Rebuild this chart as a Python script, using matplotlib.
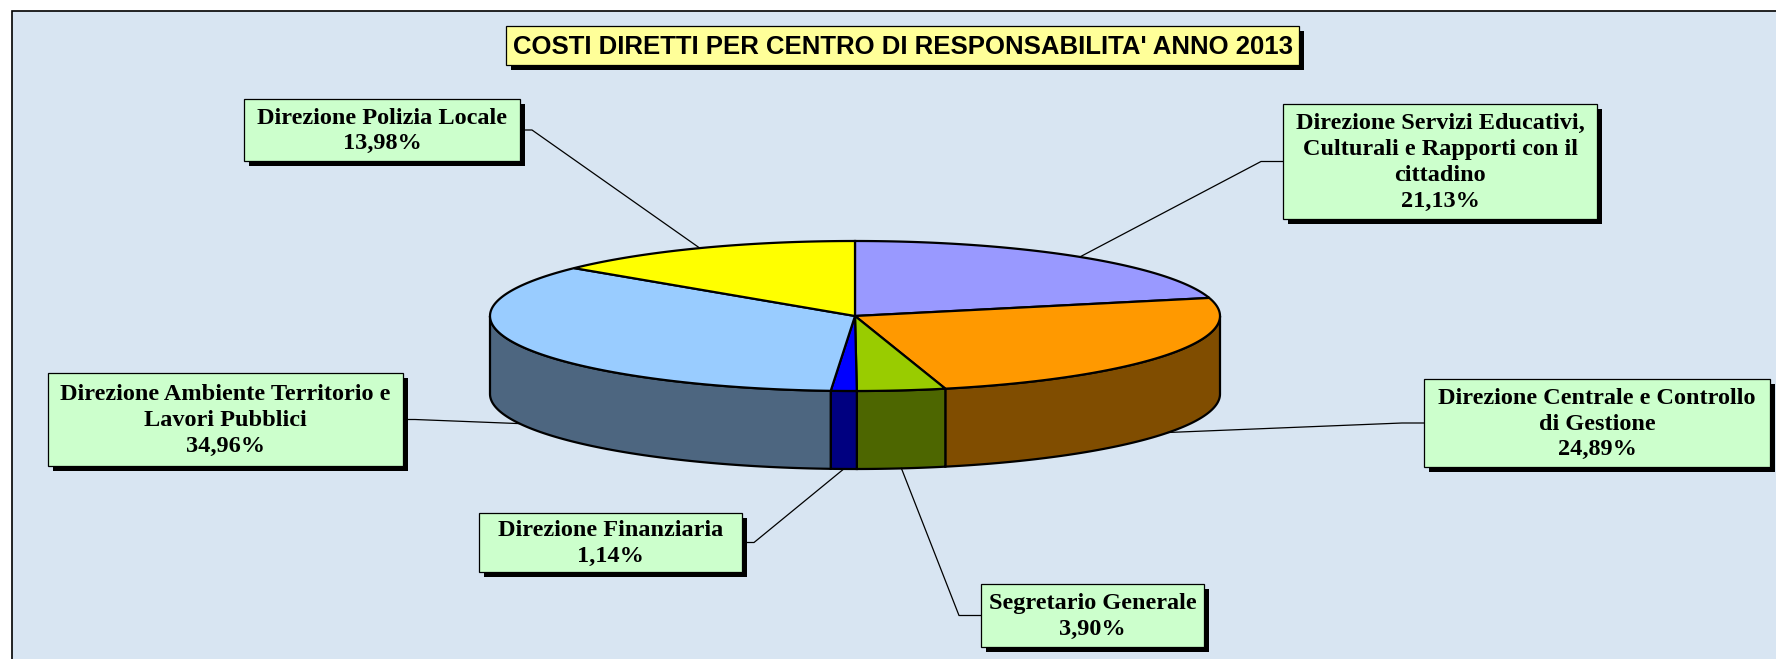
import numpy as np
import matplotlib.pyplot as plt
from matplotlib.patches import Polygon, Rectangle

# Costi diretti per centro di responsabilita' 2013 (quote percentuali)
centri = [
    "Direzione Servizi Educativi,\nCulturali e Rapporti con il\ncittadino",
    "Direzione Centrale e Controllo\ndi Gestione",
    "Segretario Generale",
    "Direzione Finanziaria",
    "Direzione Ambiente Territorio e\nLavori Pubblici",
    "Direzione Polizia Locale",
]
quote = [21.13, 24.89, 3.90, 1.14, 34.96, 13.98]
colori = ["#9999FF", "#FF9900", "#99CC00", "#0000FF", "#99CCFF", "#FFFF00"]

# box etichette: (x0, y0, larghezza, altezza) in pixel, origine in alto a sinistra
box_etichette = [
    (1283, 104, 314, 115),
    (1424, 379, 346, 88),
    (981, 584, 223, 63),
    (479, 513, 263, 59),
    (48, 373, 355, 93),
    (244, 99, 276, 62),
]

W, H = 1776, 659
fig = plt.figure(figsize=(W / 100, H / 100), dpi=100)
ax = fig.add_axes([0, 0, 1, 1])
ax.set_xlim(0, W)
ax.set_ylim(H, 0)
ax.axis("off")

# sfondo dell'area grafico
ax.add_patch(Rectangle((12, 11), W, H, facecolor="#D8E5F2", edgecolor="black", lw=1.2, zorder=0))

# torta 3D: ellisse superiore e spessore
cx, cy, a, b, dz = 855, 316, 365, 75, 78


def punto(theta, dy=0.0):
    t = np.radians(theta)
    return cx + a * np.sin(t), cy - b * np.cos(t) + dy


def scurisci(c, f=0.5):
    r, g, bl = plt.matplotlib.colors.to_rgb(c)
    return (r * f, g * f, bl * f)


angoli = np.concatenate([[0], np.cumsum(quote) / sum(quote) * 360])

# pareti laterali (solo la meta' frontale e' visibile)
for i, col in enumerate(colori):
    s, e = max(angoli[i], 90), min(angoli[i + 1], 270)
    if e <= s:
        continue
    th = np.linspace(s, e, 80)
    sopra = [punto(t) for t in th]
    sotto = [punto(t, dz) for t in th[::-1]]
    ax.add_patch(Polygon(sopra + sotto, closed=True, facecolor=scurisci(col),
                         edgecolor="black", lw=1.6, zorder=2))

# facce superiori
for i, col in enumerate(colori):
    th = np.linspace(angoli[i], angoli[i + 1], 120)
    pts = [(cx, cy)] + [punto(t) for t in th]
    ax.add_patch(Polygon(pts, closed=True, facecolor=col, edgecolor="black",
                         lw=1.6, zorder=3))

# etichette con linee guida
for i, (nome, q) in enumerate(zip(centri, quote)):
    x0, y0, w, h = box_etichette[i]
    mid = (angoli[i] + angoli[i + 1]) / 2
    if 90 < mid < 270:
        ax_x, ax_y = punto(mid, dz)
    else:
        ax_x, ax_y = punto(mid)
    ym = y0 + h / 2
    if x0 > ax_x:
        attacco = x0
        gomito = x0 - 22
    else:
        attacco = x0 + w
        gomito = x0 + w + 12
    ax.plot([ax_x, gomito, attacco], [ax_y, ym, ym], color="black", lw=0.9, zorder=4)

    ax.add_patch(Rectangle((x0 + 5, y0 + 5), w, h, facecolor="black", lw=0, zorder=5))
    ax.add_patch(Rectangle((x0, y0), w, h, facecolor="#CCFFCC", edgecolor="black",
                           lw=0.9, zorder=6))
    testo = f"{nome}\n{q:.2f}%".replace(".", ",")
    ax.text(x0 + w / 2, ym + 1, testo, ha="center", va="center", fontsize=17.5,
            family="Liberation Serif", weight="bold", linespacing=1.3, zorder=7)

# titolo
tx0, ty0, tw, th_ = 506, 26, 793, 39
ax.add_patch(Rectangle((tx0 + 5, ty0 + 5), tw, th_, facecolor="black", lw=0, zorder=5))
ax.add_patch(Rectangle((tx0, ty0), tw, th_, facecolor="#FFFF99", edgecolor="black",
                       lw=0.9, zorder=6))
ax.text(tx0 + tw / 2, ty0 + th_ / 2 + 1, "COSTI DIRETTI PER CENTRO DI RESPONSABILITA' ANNO 2013",
        ha="center", va="center", fontsize=18.5, family="Liberation Sans", weight="bold", zorder=7)

fig.savefig("out.png", dpi=100, facecolor="white")
